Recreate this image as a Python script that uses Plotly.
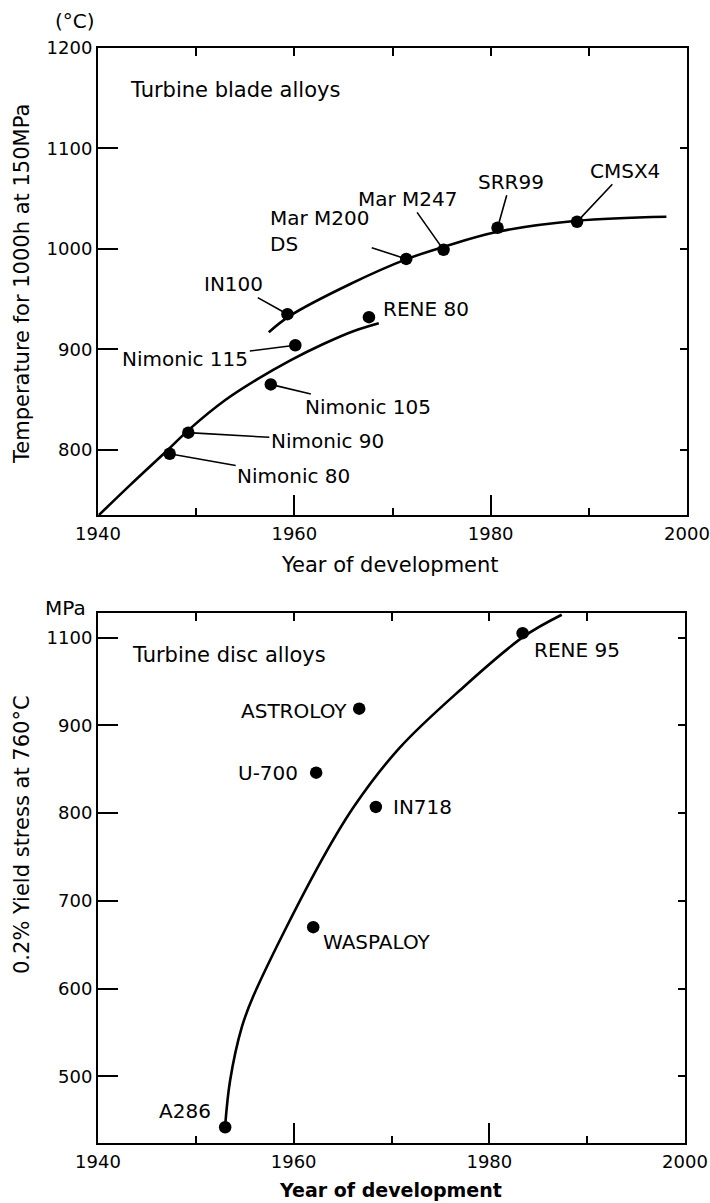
import plotly.graph_objects as go

# ---------------- data ----------------
# Top panel: turbine blade alloys
blade_alloys = ["Nimonic 80", "Nimonic 90", "Nimonic 105", "Nimonic 115", "IN100",
                "RENE 80", "Mar M200<br>DS", "Mar M247", "SRR99", "CMSX4"]
blade_years = [1947.3, 1949.2, 1957.6, 1960.1, 1959.3, 1967.6, 1971.4, 1975.2, 1980.7, 1988.8]
blade_temps = [796, 817, 865, 904, 935, 932, 990, 999, 1021, 1027]

# trend curves
lower_curve_years = [1940.1, 1943.4, 1946.8, 1949.5, 1952.9, 1956.2, 1959.6, 1962.9, 1966.0, 1968.6]
lower_curve_temps = [735, 766, 797, 822, 849, 870, 889, 905, 918, 926]
upper_curve_years = [1957.4, 1959.5, 1965.7, 1971.5, 1975.2, 1980.7, 1988.8, 1997.9]
upper_curve_temps = [917, 933, 965, 990, 1002, 1017, 1028, 1032]

# Bottom panel: turbine disc alloys
disc_alloys = ["A286", "WASPALOY", "U-700", "ASTROLOY", "IN718", "RENE 95"]
disc_years = [1953.0, 1962.0, 1962.3, 1966.7, 1968.4, 1983.4]
disc_stress = [442, 670, 846, 919, 807, 1005]

disc_curve_years = [1953.0, 1953.5, 1954.7, 1955.9, 1962.3, 1966.2,
                    1970.8, 1977.0, 1983.5, 1987.4]
disc_curve_stress = [444, 495, 556, 592, 735, 808, 874, 940, 1001, 1026]

# axis ticks
year_major = [1940, 1960, 1980, 2000]
year_minor = [1950, 1970, 1990]
year_mirror = [1950, 1960, 1970, 1980, 1990]
temp_ticks = [800, 900, 1000, 1100, 1200]
temp_mirror = [800, 900, 1000, 1100]
stress_ticks = [500, 600, 700, 800, 900, 1000]
stress_ticktext = ["500", "600", "700", "800", "900", "1100"]

# ---------------- styling / placement ----------------
FONT = "DejaVu Sans"
BLACK = "#000000"
W, H = 710, 1203
# plot area in page pixels: x 98..687, y 48..1143
L, T = 98, 48
R = W - 687
B = H - 1143
PW, PH = 687 - 98, 1143 - 48


def px_x(px):
    return (px - 98) / PW


def px_y(py):
    return (1143 - py) / PH


# text offsets for blade labels (pixels): (ax, ay) with leader, or None
blade_label_offsets = [(124, 22), (139, 8), (97, 23), (-110, 14), (-54, -30),
                       None, (-86, -28), (-36, -51), (13, -46), (48, -51)]
# disc label placement: (xanchor, xshift, yshift)
disc_label_place = [("right", -12, 16), ("left", 8, -15), ("right", -16, 0),
                    ("right", -10, -2), ("left", 15, 0), ("left", 9, -17)]

fig = go.Figure()

line_style = dict(color=BLACK, width=2.6, shape="spline", smoothing=1.0)
marker_style = dict(color=BLACK, size=12.5)

fig.add_trace(go.Scatter(x=lower_curve_years, y=lower_curve_temps, mode="lines",
                         line=line_style, xaxis="x", yaxis="y", hoverinfo="skip"))
fig.add_trace(go.Scatter(x=upper_curve_years, y=upper_curve_temps, mode="lines",
                         line=line_style, xaxis="x", yaxis="y", hoverinfo="skip"))
fig.add_trace(go.Scatter(x=blade_years, y=blade_temps, mode="markers",
                         marker=marker_style, xaxis="x", yaxis="y",
                         text=blade_alloys))

fig.add_trace(go.Scatter(x=disc_curve_years, y=disc_curve_stress, mode="lines",
                         line=line_style, xaxis="x2", yaxis="y2", hoverinfo="skip"))
fig.add_trace(go.Scatter(x=disc_years, y=disc_stress, mode="markers",
                         marker=marker_style, xaxis="x2", yaxis="y2",
                         text=disc_alloys))

# empty traces to register the mirrored tick axes
for xa, ya in [("x3", "y"), ("x", "y3"), ("x4", "y2"), ("x2", "y4")]:
    fig.add_trace(go.Scatter(x=[], y=[], xaxis=xa, yaxis=ya, hoverinfo="skip"))

annotations = []
lab_font = dict(family=FONT, size=20, color=BLACK)
for name, yr, tv, off in zip(blade_alloys, blade_years, blade_temps, blade_label_offsets):
    if off is None:
        annotations.append(dict(x=yr, y=tv, xref="x", yref="y", text=name,
                                showarrow=False, xanchor="left", yanchor="middle",
                                xshift=12, yshift=8, font=lab_font))
    else:
        annotations.append(dict(x=yr, y=tv, xref="x", yref="y", text=name,
                                showarrow=True, arrowhead=0, arrowwidth=1.6,
                                arrowcolor=BLACK, ax=off[0], ay=off[1],
                                standoff=4, align="left", font=lab_font))

for name, yr, sv, (anc, xs, ys) in zip(disc_alloys, disc_years, disc_stress, disc_label_place):
    annotations.append(dict(x=yr, y=sv, xref="x2", yref="y2", text=name,
                            showarrow=False, xanchor=anc, yanchor="middle",
                            xshift=xs, yshift=ys, font=lab_font))

title_font = dict(family=FONT, size=21, color=BLACK)


def paper_text(px, py, text, font, xanchor="center", angle=0):
    return dict(x=px_x(px), y=px_y(py), xref="paper", yref="paper", text=text,
                showarrow=False, xanchor=xanchor, yanchor="middle",
                textangle=angle, font=font)


annotations += [
    paper_text(128, 90, "Turbine blade alloys", title_font, xanchor="left"),
    paper_text(130, 655, "Turbine disc alloys", title_font, xanchor="left"),
    paper_text(75, 21, "(°C)", lab_font),
    paper_text(65, 608, "MPa", lab_font),
    paper_text(22, 284, "Temperature for 1000h at 150MPa", title_font, angle=-90),
    paper_text(22, 835, "0.2% Yield stress at 760°C", title_font, angle=-90),
    paper_text(390, 565, "Year of development", title_font),
    paper_text(390, 1190, "<b>Year of development</b>",
               dict(family=FONT, size=19, color=BLACK)),
]

tick_font = dict(family=FONT, size=18, color=BLACK)
base_axis = dict(showgrid=False, zeroline=False, showline=True, linecolor=BLACK,
                 linewidth=2, mirror=True, ticks="inside", tickcolor=BLACK,
                 tickwidth=2, tickfont=tick_font, fixedrange=True, automargin=False,
                 ticklabeloverflow="allow")
overlay_axis = dict(showgrid=False, zeroline=False, showline=False, ticks="inside",
                    tickcolor=BLACK, tickwidth=2, showticklabels=False, fixedrange=True,
                    automargin=False)

top_dom = [px_y(515), 1.0]
bot_dom = [0.0, px_y(613)]
bot_xdom = [0.0, (685 - 98) / PW]

xminor = dict(tickmode="array", tickvals=year_minor, ticks="inside",
              ticklen=7, tickwidth=2, tickcolor=BLACK)

fig.update_layout(
    width=W, height=H,
    margin=dict(l=L, r=R, t=T, b=B, autoexpand=False),
    paper_bgcolor="white", plot_bgcolor="white",
    showlegend=False,
    font=dict(family=FONT, color=BLACK),
    xaxis=dict(base_axis, domain=[0, 1], anchor="y", range=[1940, 2000],
               tickmode="array", tickvals=year_major, ticklen=20,
               ticklabelstandoff=1, minor=xminor),
    yaxis=dict(base_axis, domain=top_dom, anchor="x", range=[735, 1200],
               tickmode="array", tickvals=temp_ticks, ticklen=20, ticklabelstandoff=0),
    xaxis3=dict(overlay_axis, overlaying="x", side="top", anchor="y",
                range=[1940, 2000], tickmode="array", tickvals=year_mirror, ticklen=8),
    yaxis3=dict(overlay_axis, overlaying="y", side="right", anchor="x",
                range=[735, 1200], tickmode="array", tickvals=temp_mirror, ticklen=7),
    xaxis2=dict(base_axis, domain=bot_xdom, anchor="y2", range=[1940, 2000],
                tickmode="array", tickvals=year_major, ticklen=20,
                ticklabelstandoff=1, minor=xminor),
    yaxis2=dict(base_axis, domain=bot_dom, anchor="x2", range=[424, 1028],
                tickmode="array", tickvals=stress_ticks, ticktext=stress_ticktext,
                ticklen=20, ticklabelstandoff=0),
    xaxis4=dict(overlay_axis, overlaying="x2", side="top", anchor="y2",
                range=[1940, 2000], tickmode="array", tickvals=year_mirror, ticklen=8),
    yaxis4=dict(overlay_axis, overlaying="y2", side="right", anchor="x2",
                range=[424, 1028], tickmode="array", tickvals=stress_ticks, ticklen=7),
    annotations=annotations,
)

# remove the default page margin so the figure fills the window exactly
page_fix = ("document.body.style.margin='0';"
            "document.body.style.overflow='hidden';")
fig.write_html("out.html", post_script=page_fix,
               config={"displayModeBar": False, "staticPlot": True})
